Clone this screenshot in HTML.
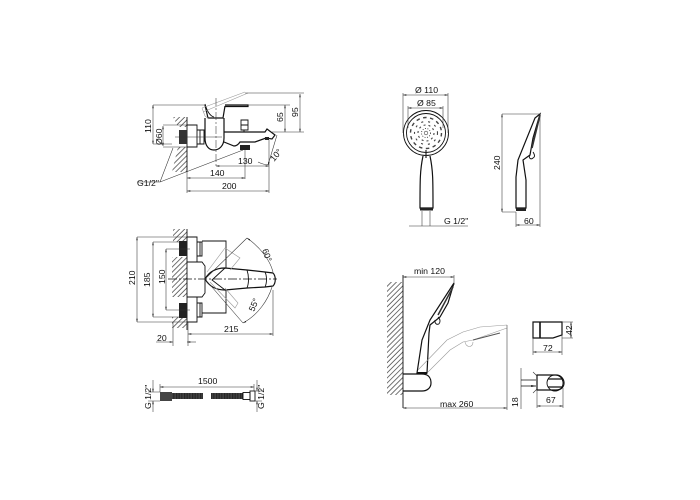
<!DOCTYPE html>
<html><head><meta charset="utf-8"><style>
html,body{margin:0;padding:0;background:#fff}
svg{display:block}
text{font-family:"Liberation Sans",sans-serif;font-size:8.7px;fill:#111}
.k{fill:none;stroke:#111;stroke-width:.9}
.b{fill:none;stroke:#111;stroke-width:1.2}
.t{fill:none;stroke:#333;stroke-width:.55}
.g{fill:none;stroke:#999;stroke-width:.6}
</style></head><body>
<svg width="700" height="500" viewBox="0 0 700 500" xmlns="http://www.w3.org/2000/svg">
<defs>
<pattern id="hatch" width="3.600" height="3.600" patternUnits="userSpaceOnUse" patternTransform="rotate(45)"><line x1="1" y1="0" x2="1" y2="3.600" stroke="#444" stroke-width=".75"/></pattern>
<pattern id="rib" width="1.600" height="8" patternUnits="userSpaceOnUse"><rect width="1" height="8" fill="#222"/></pattern>
<marker id="a" markerWidth="6" markerHeight="4" refX="6" refY="2" orient="auto-start-reverse"><path d="M0 .7L6 2L0 3.300z" fill="#111"/></marker>
</defs>

<!-- TOP-LEFT FAUCET SIDE -->
<path d="M173 117H187V127H178z" fill="url(#hatch)"/>
<path d="M178 147H187V172H172z" fill="url(#hatch)"/>
<path d="M187 117V172" class="k"/>
<rect x="179" y="130" width="8" height="14" fill="#333"/>
<path d="M187 125H197V147H187M197 130H204V144H197M200 130V144" class="k"/>
<!-- body -->
<path d="M205 105L208 118H223L225 106" class="b"/>
<path d="M205 104C207 111 210 116 214 117" class="k"/>
<path d="M225 105H248V106.500H225" class="b"/>
<path d="M205 118V138C205 146 209 150 214 150C219 150 224 146 224 138V118" class="b"/>
<path d="M204 132H205M204 141H205" class="k"/>
<path d="M224 132H265L267 129L275 135L272 139L266 138L255 142H240C238 145 236 146 234 146L224 142" class="b"/>
<path d="M241 120H248V130H241zM241 125H248M244 130V132" class="k"/>
<rect x="240" y="145" width="10" height="5" fill="#222"/>
<rect x="265" y="137" width="4" height="3" fill="#222"/>
<path d="M202 108L245 92M203 112L248 93M202 108L205 116L209 119" class="g"/>
<!-- dims -->
<path d="M153 105V144" class="t" marker-start="url(#a)" marker-end="url(#a)"/>
<path d="M153 105H205M153 144H172" class="t"/>
<path d="M163 126V146" class="t" marker-start="url(#a)" marker-end="url(#a)"/>
<path d="M163 125H187M163 147H187M175 137H222" class="t"/>
<path d="M216 98V166" stroke="#333" stroke-width=".55" stroke-dasharray="8 2 2 2" fill="none"/>
<path d="M285 105V132" class="t" marker-start="url(#a)" marker-end="url(#a)"/>
<path d="M248 105H290" class="t"/>
<path d="M300 94V132" class="t" marker-start="url(#a)" marker-end="url(#a)"/>
<path d="M245 93H304M272 132H304" class="t"/>
<path d="M216 166H269" class="t" marker-start="url(#a)" marker-end="url(#a)"/>
<path d="M187 178H245" class="t" marker-start="url(#a)" marker-end="url(#a)"/>
<path d="M245 150V179" class="t"/>
<path d="M187 191H269" class="t" marker-start="url(#a)" marker-end="url(#a)"/>
<path d="M187 172V193M269 140V193" class="t"/>
<path d="M160 182L173 148M160 182L243 150M160 182H137" class="t"/>
<path d="M258 162C262 164 265 165 269 164M277 135L268 165" class="t" marker-end="url(#a)"/>
<text transform="translate(151,133) rotate(-90)">110</text>
<text transform="translate(162,145) rotate(-90)">Ø60</text>
<text transform="translate(283,122) rotate(-90)">65</text>
<text transform="translate(298,117) rotate(-90)">95</text>
<text x="238" y="164">130</text>
<text x="210" y="176">140</text>
<text x="222" y="189">200</text>
<text x="137" y="186">G1/2"</text>
<text transform="translate(274,162) rotate(-50)">10°</text>

<!-- MIDDLE-LEFT TOP VIEW -->
<path d="M173 229H187V242H173z" fill="url(#hatch)"/>
<path d="M172 257H187V297H172z" fill="url(#hatch)"/>
<path d="M172 317H187V328H172z" fill="url(#hatch)"/>
<path d="M187 229V330" class="k"/>
<rect x="179" y="241" width="8" height="15" fill="#222"/>
<rect x="179" y="303" width="8" height="15" fill="#222"/>
<path d="M187 237H197V262H187M187 297H197V322H187M197 242H202V256H197M197 303H202V317H197M200 242V256M200 303V317" class="k"/>
<path d="M202 241H226V268M202 313H226V290M197 262H202L205 266V293L202 297H197" class="k"/>
<path d="M205 279C209 272 216 268 225 268L247 270L265 272L273 273C276 276 276 283 273 286L265 287L247 288L225 290C216 290 209 286 205 279z" class="b"/>
<path d="M247 270C249 276 249 283 247 288M265 272C267 276 267 283 265 287" class="k"/>
<path d="M225 268L212 280L225 290" class="k"/>
<path d="M207 272L225 248L240 258L230 270M210 282L235 308L238 303L225 288" class="g"/>
<path d="M168 279H277" stroke="#111" stroke-width=".7" stroke-dasharray="9 2 2 2" fill="none"/>
<path d="M247 238C260 247 270 260 273 272" class="t" marker-start="url(#a)"/>
<path d="M243 323C258 315 268 300 272 287" class="t" marker-start="url(#a)"/>
<path d="M205 279L247 238M205 279L243 323" class="t"/>
<path d="M137 237V322" class="t" marker-start="url(#a)" marker-end="url(#a)"/>
<path d="M137 237H187M137 322H187" class="t"/>
<path d="M153 242V317" class="t" marker-start="url(#a)" marker-end="url(#a)"/>
<path d="M153 242H180M153 317H180" class="t"/>
<path d="M166 249V310" class="t" marker-start="url(#a)" marker-end="url(#a)"/>
<path d="M166 249H190M166 310H190" class="t"/>
<path d="M188 334H273" class="t" marker-start="url(#a)" marker-end="url(#a)"/>
<path d="M273 290V336M188 322V346M173 322V346" class="t"/>
<path d="M156 342H173" class="t" marker-end="url(#a)"/>
<path d="M196 342H187" class="t" marker-end="url(#a)"/>
<text transform="translate(135,285) rotate(-90)">210</text>
<text transform="translate(150,287) rotate(-90)">185</text>
<text transform="translate(165,284) rotate(-90)">150</text>
<text x="224" y="332">215</text>
<text x="157" y="341">20</text>
<text transform="translate(262,250) rotate(70)">60°</text>
<text transform="translate(254,312) rotate(-67)">55°</text>

<!-- HOSE -->
<rect x="160" y="392" width="12" height="9" fill="#444"/>
<rect x="172" y="393" width="31" height="6" fill="#555"/>
<rect x="172" y="393" width="31" height="6" fill="url(#rib)"/>
<rect x="211" y="393" width="32" height="6" fill="#555"/>
<rect x="211" y="393" width="32" height="6" fill="url(#rib)"/>
<rect x="243" y="392.500" width="7" height="7" class="k"/>
<rect x="250" y="391" width="5" height="10" class="k"/>
<path d="M160 387H254" class="t" marker-start="url(#a)" marker-end="url(#a)"/>
<path d="M160 384V392M254 384V391M148 392H160M262 391H250M148 401H160M262 401H250" class="t"/>
<path d="M153 380V392" class="t" marker-end="url(#a)"/>
<path d="M153 412V401" class="t" marker-end="url(#a)"/>
<path d="M257 380V391" class="t" marker-end="url(#a)"/>
<path d="M257 412V401" class="t" marker-end="url(#a)"/>
<text x="198" y="384">1500</text>
<text transform="translate(151,409) rotate(-90)">G 1/2"</text>
<text transform="translate(264,409) rotate(-90)">G 1/2"</text>

<!-- SHOWER FRONT -->
<circle cx="426" cy="133" r="22.500" class="k"/>
<circle cx="426" cy="133" r="19.500" class="k"/>
<g fill="none" stroke="#444">
<circle cx="426" cy="133" r="15.500" stroke-width="1.400" stroke-dasharray="3.500 3.500"/>
<circle cx="426" cy="133" r="11.500" stroke-width="1.100" stroke-dasharray="2 5"/>
<circle cx="426" cy="133" r="8" stroke-width="1.100" stroke-dasharray="2 3"/>
<circle cx="426" cy="133" r="4.500" stroke-width=".9" stroke-dasharray="1 1.500"/>
<circle cx="426" cy="133" r="1.800" stroke-width=".6"/>
</g>
<path d="M426 150V158" stroke="#222" stroke-width="1.200"/>
<path d="M423 156C420 170 420 180 420 208H433C433 180 433 170 430 156" class="b"/>
<rect x="420" y="208" width="13" height="2.500" fill="#222"/>
<path d="M422 211V226M430 211V226M409 226H468" class="t"/>
<path d="M403 95H448" class="t" marker-start="url(#a)" marker-end="url(#a)"/>
<path d="M403 93V133M448 93V133" class="t"/>
<path d="M408 108H443" class="t" marker-start="url(#a)" marker-end="url(#a)"/>
<path d="M408 106V128M443 106V128" class="t"/>
<text x="415" y="93">Ø 110</text>
<text x="417" y="106">Ø 85</text>
<text x="444" y="224">G 1/2"</text>

<!-- SHOWER SIDE -->
<path d="M540 114L535 118L518 160L516 177V208H526V180L523 160L530 155L533 138z" class="b"/>
<path d="M540 115L532 148" stroke="#333" stroke-width="1.600" fill="none"/>
<path d="M530 155C528 158 531 160 533 158C535 157 535 155 533 152" class="k"/>
<rect x="516" y="208" width="10" height="3" fill="#222"/>
<path d="M502 114V212" class="t" marker-start="url(#a)" marker-end="url(#a)"/>
<path d="M502 114H540M502 212H516M516 212V227M540 116V227" class="t"/>
<path d="M516 225H540" class="t" marker-start="url(#a)" marker-end="url(#a)"/>
<text transform="translate(500,170) rotate(-90)">240</text>
<text x="524" y="224">60</text>

<!-- SHOWER ON WALL -->
<path d="M387 282H403V395H387z" fill="url(#hatch)"/>
<path d="M403 275V408" class="k"/>
<path d="M403 374H422C430 374 431 380 431 383C431 388 427 391 422 391H403" class="b"/>
<path d="M454 283L430 320L422 340L417 373H427L429 333L430 325L440 317L448 303z" class="b"/>
<path d="M453 287L438 315" stroke="#333" stroke-width="1.500"/>
<path d="M435 320C434 325 440 326 440 321C440 319 439 318 438 317" class="k"/>
<path d="M417 373H427" stroke="#111" stroke-width="2"/>
<path d="M418 370L447 340L463 332L480 327L507 325M428 372L450 350L463 342L473 340L507 328" class="g"/>
<path d="M473 340L500 333" stroke="#555" stroke-width="1" fill="none"/>
<path d="M465 342C466 348 473 348 473 342" class="g"/>
<path d="M403 277H454" class="t" marker-start="url(#a)" marker-end="url(#a)"/>
<path d="M454 275V285M507 325V410" class="t"/>
<path d="M403 408H507" class="t" marker-start="url(#a)" marker-end="url(#a)"/>
<text x="414" y="274">min 120</text>
<text x="440" y="407">max 260</text>

<!-- MOUNT -->
<path d="M533 322H562V335L553 338H533z" class="b"/>
<path d="M540 322V338" stroke="#111" stroke-width="1.600"/>
<path d="M533 338V355M562 335V355M562 322H573M562 338H573" class="t"/>
<path d="M533 352H562" class="t" marker-start="url(#a)" marker-end="url(#a)"/>
<path d="M571 322V338" class="t" marker-start="url(#a)" marker-end="url(#a)"/>
<text x="543" y="351">72</text>
<text transform="translate(572,335) rotate(-90)">42</text>

<!-- BRACKET -->
<path d="M521 368V409" stroke="#888" stroke-width="1"/>
<path d="M537 375H556C561 375 564 379 564 383C564 387 561 390 556 390H537z" class="b"/>
<circle cx="555" cy="383" r="8" class="k"/>
<path d="M548 379H563M548 387H563" stroke="#111" stroke-width="1.200" fill="none"/>
<path d="M521 380H536M521 386H536" stroke="#111" stroke-width=".8" fill="none" marker-end="url(#a)"/>
<path d="M533 372L537 376M533 393L537 389" class="t"/>
<path d="M537 390V408M563 388V408" class="t"/>
<path d="M537 406H563" class="t" marker-start="url(#a)" marker-end="url(#a)"/>
<text x="546" y="403">67</text>
<text transform="translate(518,407) rotate(-90)">18</text>
</svg>
</body></html>
